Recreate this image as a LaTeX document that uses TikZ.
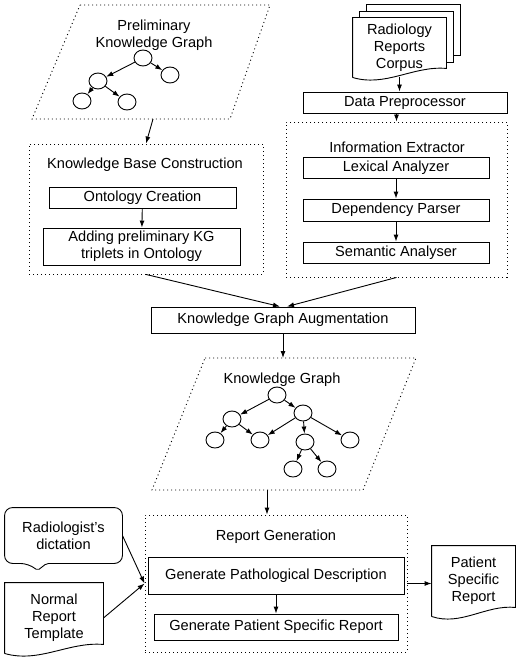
\documentclass[tikz,border=0pt]{standalone}
\usepackage{fontspec}
\setmainfont{Liberation Sans}
\usetikzlibrary{shapes,arrows.meta,positioning,calc}

\newcommand{\docoutline}[1]{%
  \draw (#1.south west) -- (#1.north west) -- (#1.north east) -- ([yshift=9pt]#1.south east)
    .. controls ($(#1.south west)!0.65!(#1.south east)+(0,12pt)$) and ($(#1.south west)!0.35!(#1.south east)+(0,-10pt)$) .. (#1.south west);}

\begin{document}
\begin{tikzpicture}[x=1pt, y=-1pt, line width=0.9pt, >={Latex[length=7pt,width=5pt]},
  font=\fontsize{14.6}{17}\selectfont,
  procbox/.style={draw, inner sep=1pt, align=center},
  dotbox/.style={draw, dash pattern=on 1pt off 3pt},
  tnode/.style={draw, ellipse, minimum width=18, minimum height=16, inner sep=0pt},
  docnode/.style={align=center, inner sep=0pt}]
  \useasboundingbox (0,0) rectangle (519,666);

  % preliminary knowledge graph
  \draw[dotbox] (80,5) -- (270,5) -- (230,119) -- (32,119) -- cycle;
  \coordinate (prelimbot) at (153,119);
  \node[align=center] (prelimtitle) at (154,35) {Preliminary\\Knowledge Graph};
  \node[tnode] (p0) at (143,58) {};
  \node[tnode] (p1) at (170,75) {};
  \node[tnode] (p2) at (98,81) {};
  \node[tnode] (p3) at (82,101) {};
  \node[tnode] (p4) at (127,102) {};
  \foreach \a/\b in {p0/p1,p0/p2,p2/p3,p2/p4}
    \draw[->] (\a) -- (\b);

  % corpus and information extractor
  \node[docnode, minimum width=93, minimum height=59] (corpus) at (399.5,47.5) {Radiology\\Reports\\Corpus};
  \draw ([xshift=7pt]corpus.north west) -- ([shift={(7pt,6.5pt)}]corpus.north west) -- ([shift={(7pt,6.5pt)}]corpus.north east) -- ([shift={(7pt,15pt)}]corpus.south east) -- ([yshift=15pt]corpus.south east);
  \draw ([shift={(14pt,6.5pt)}]corpus.north west) -- ([shift={(14pt,13pt)}]corpus.north west) -- ([shift={(14pt,13pt)}]corpus.north east) -- ([shift={(14pt,22pt)}]corpus.south east) -- ([shift={(7pt,22pt)}]corpus.south east);
  \docoutline{corpus}

  \node[procbox, minimum width=204, minimum height=21] (dataprep) at (405,102.5) {Data Preprocessor};
  \node[dotbox, minimum width=221, minimum height=155] (ie) at (396.5,199.5) {};
  \node (ietitle) at (397,147) {Information Extractor};
  \node[procbox, minimum width=186, minimum height=21] (lexical) at (396,167.5) {Lexical Analyzer};
  \node[procbox, minimum width=186, minimum height=22] (depparse) at (396,210) {Dependency Parser};
  \node[procbox, minimum width=186, minimum height=21] (semantic) at (396,252.5) {Semantic Analyser};

  % knowledge base construction
  \node[dotbox, minimum width=234, minimum height=130] (kbc) at (146,209) {};
  \node (kbctitle) at (145,165) {Knowledge Base Construction};
  \node[procbox, minimum width=187, minimum height=21] (ontology) at (142.5,197.5) {Ontology Creation};
  \node[procbox, minimum width=197, minimum height=37] (adding) at (141.5,246.5) {Adding preliminary KG\\triplets in Ontology};

  \node[procbox, minimum width=264, minimum height=26] (kga) at (283,320) {Knowledge Graph Augmentation};

  % knowledge graph
  \draw[dotbox] (205,358) -- (416,358) -- (363,490) -- (152,490) -- cycle;
  \coordinate (kgtop) at (283,358);
  \coordinate (kgbot) at (267,490);
  \node (kgtitle) at (282,380) {Knowledge Graph};
  \node[tnode] (k0) at (277,395) {};
  \node[tnode] (k1) at (232,419) {};
  \node[tnode] (k2) at (303,413) {};
  \node[tnode] (k3) at (215,440) {};
  \node[tnode] (k4) at (260,440) {};
  \node[tnode] (k5) at (305,442) {};
  \node[tnode] (k6) at (350,440) {};
  \node[tnode] (k7) at (293,469) {};
  \node[tnode] (k8) at (327,469) {};
  \foreach \a/\b in {k0/k1,k0/k2,k1/k3,k1/k4,k2/k4,k2/k5,k2/k6,k5/k7,k5/k8}
    \draw[->] (\a) -- (\b);

  % report generation
  \node[dotbox, minimum width=262, minimum height=137] (rg) at (276,583.5) {};
  \node (rgtitle) at (276,537) {Report Generation};
  \node[procbox, minimum width=256, minimum height=37] (genpath) at (276,575.5) {Generate Pathological Description};
  \node[procbox, minimum width=244, minimum height=26] (genpat) at (276,627) {Generate Patient Specific Report};

  \node[docnode, minimum width=117, minimum height=55] (dictation) at (63.5,535.5) {Radiologist's\\dictation};
  \draw[rounded corners=8pt] (dictation.north) -- (dictation.north west) -- (dictation.south west) -- ([xshift=24pt]dictation.south west) [rounded corners=2pt] -- ([shift={(33pt,-7pt)}]dictation.south west) -- ([xshift=42pt]dictation.south west) [rounded corners=8pt] -- (dictation.south east) -- (dictation.north east) -- cycle;
  \node[docnode, minimum width=98, minimum height=70] (normal) at (54,618) {Normal\\Report\\Template};
  \docoutline{normal}
  \node[docnode, minimum width=83, minimum height=70] (patrep) at (473.5,581) {Patient\\Specific\\Report};
  \docoutline{patrep}

  \draw[->] (prelimbot) -- (kbc.north);
  \draw[->] (corpus.south) -- (corpus.south |- dataprep.north);
  \draw[->] (dataprep.south -| ie.north) -- (ie.north);
  \draw[->] (lexical) -- (depparse);
  \draw[->] (depparse) -- (semantic);
  \draw[->] (ontology) -- (adding);
  \draw[->] (kbc.south) -- ([xshift=-3pt]kga.north);
  \draw[->] (ie.south) -- ([xshift=4pt]kga.north);
  \draw[->] (kga.south) -- (kgtop);
  \draw[->] (kgbot) -- (kgbot |- rg.north);
  \draw[->] (genpath) -- (genpat);
  \draw[->] (dictation.east) -- (rg.west);
  \draw[->] (normal.east) -- (rg.west);
  \draw[->] (rg.east) -- (rg.east -| patrep.west);
\end{tikzpicture}
\end{document}
